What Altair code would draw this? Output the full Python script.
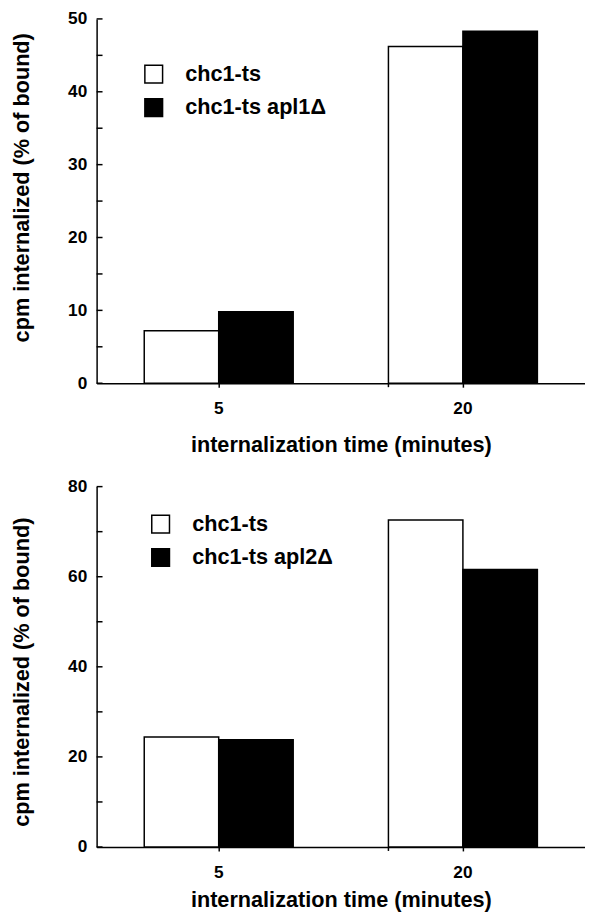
import altair as alt
import pandas as pd

# ---- data ----
times = ["5", "20"]

top_series = ["chc1-ts", "chc1-ts apl1Δ"]
top_ctrl = [7.2, 46.2]
top_mut = [9.8, 48.3]
top_ticks = [0, 5, 10, 15, 20, 25, 30, 35, 40, 45, 50]
top_labels = [0, 10, 20, 30, 40, 50]

bot_series = ["chc1-ts", "chc1-ts apl2Δ"]
bot_ctrl = [24.4, 72.6]
bot_mut = [23.8, 61.6]
bot_ticks = [0, 10, 20, 30, 40, 50, 60, 70, 80]
bot_labels = [0, 20, 40, 60, 80]

y_title = "cpm internalized (% of bound)"
x_title = "internalization time (minutes)"

FONT = "Liberation Sans"
W = 496


def panel(series, ctrl, mut, ymax, ticks, labels, height, lx, ly, ty, xty):
    rows = []
    for i, t in enumerate(times):
        rows.append({"t": t, "s": series[0], "value": ctrl[i]})
        rows.append({"t": t, "s": series[1], "value": mut[i]})
    bars_df = pd.DataFrame(rows)
    ticks_df = pd.DataFrame({"value": ticks})
    mid_df = pd.DataFrame({"t": [times[1]]})

    x_scale = alt.Scale(domain=times, paddingInner=0.39, paddingOuter=0.195)
    x_axis = alt.Axis(
        labelAngle=0, tickSize=4, tickWidth=1.5, tickColor="black",
        labelPadding=13, titleY=xty, titleBaseline="middle",
    )
    y_scale = alt.Scale(domain=[0, ymax], nice=False, zero=True)
    y_axis = alt.Axis(
        values=labels, ticks=False, tickSize=0, labelPadding=10,
        titleX=-76, titleY=ty, titleAngle=-90, titleAlign="center",
        titleBaseline="middle",
    )
    y_enc = alt.Y("value:Q", scale=y_scale, axis=y_axis, title=y_title)

    bars = alt.Chart(bars_df).mark_bar(stroke="black", strokeWidth=1.5).encode(
        x=alt.X("t:N", scale=x_scale, axis=x_axis, title=x_title, sort=times),
        xOffset=alt.XOffset("s:N", scale=alt.Scale(domain=series, paddingInner=0, paddingOuter=0)),
        y=y_enc,
        fill=alt.Fill(
            "s:N",
            scale=alt.Scale(domain=series, range=["white", "black"]),
            legend=alt.Legend(
                orient="none", legendX=lx, legendY=ly, title=None,
                symbolType="square", symbolSize=324, symbolStrokeColor="black",
                symbolStrokeWidth=1.5, labelFont=FONT, labelFontSize=22,
                labelFontWeight="bold", labelColor="black", labelOffset=21,
                rowPadding=10, padding=0, symbolOpacity=1,
            ),
        ),
    )

    yticks = alt.Chart(ticks_df).mark_rule(color="black", strokeWidth=1.5).encode(
        y=y_enc, x=alt.value(0), x2=alt.value(6)
    )

    midtick = alt.Chart(mid_df).mark_rule(color="black", strokeWidth=1.5).encode(
        x=alt.X("t:N", scale=x_scale, axis=x_axis, title=x_title, bandPosition=0, sort=times),
        y=alt.value(height), y2=alt.value(height + 4),
    )

    return alt.layer(bars, yticks, midtick).properties(width=W, height=height)


top = panel(top_series, top_ctrl, top_mut, 50, top_ticks, top_labels, 370, 47, 45, 171, 62)
bot = panel(bot_series, bot_ctrl, bot_mut, 80, bot_ticks, bot_labels, 366, 54, 27, 188, 53)

chart = alt.vconcat(top, bot, spacing=23).resolve_scale(
    fill="independent", y="independent", x="independent", xOffset="independent"
).properties(
    padding={"left": 2, "top": -5, "right": 0, "bottom": 0}
).configure(
    background="white"
).configure_axis(
    labelFont=FONT, labelFontSize=17.5, labelFontWeight="bold", labelColor="black",
    titleFont=FONT, titleFontSize=22, titleFontWeight="bold", titleColor="black",
    domainColor="black", domainWidth=1.5, grid=False,
).configure_view(stroke=None)

chart.save("out.html", embed_options={"renderer": "svg", "actions": False})
